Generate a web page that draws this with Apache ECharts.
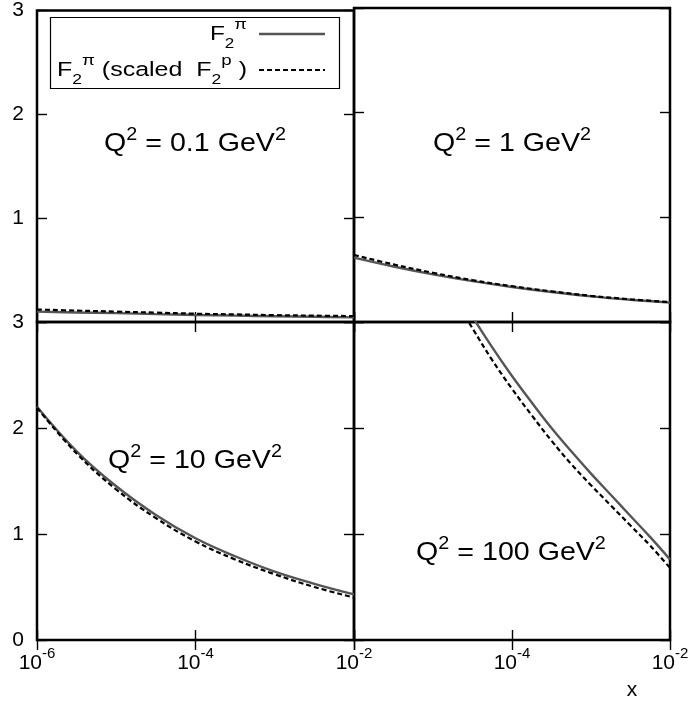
<!DOCTYPE html>
<html>
<head>
<meta charset="utf-8">
<script src="https://cdn.jsdelivr.net/npm/echarts@6/dist/echarts.min.js"></script>
<style>
html,body{margin:0;padding:0;background:#fff;}
#chart{width:694px;height:702px;}
</style>
</head>
<body>
<div id="chart"></div>
<script>
// ---- data (x given as log10(x)) ----
const xExp = [-6, -5.5, -5, -4.5, -4, -3.5, -3, -2.5, -2];
const q01Pi     = [0.100, 0.092, 0.085, 0.076, 0.068, 0.061, 0.055, 0.050, 0.045];
const q01Scaled = [0.120, 0.110, 0.100, 0.090, 0.080, 0.073, 0.066, 0.061, 0.057];
const q1Pi      = [0.615, 0.530, 0.455, 0.390, 0.335, 0.287, 0.245, 0.212, 0.185];
const q1Scaled  = [0.640, 0.550, 0.470, 0.400, 0.342, 0.293, 0.250, 0.217, 0.190];
const q10Pi     = [2.20, 1.78, 1.45, 1.18, 0.96, 0.79, 0.645, 0.53, 0.43];
const q10Scaled = [2.19, 1.76, 1.42, 1.15, 0.93, 0.76, 0.62, 0.50, 0.40];
const xExp100    = [-4.75, -4.5, -4.25, -4, -3.75, -3.5, -3.25, -3, -2.75, -2.5, -2.25, -2];
const q100Pi     = [3.36, 3.05, 2.76, 2.49, 2.24, 2.00, 1.78, 1.57, 1.37, 1.17, 0.97, 0.76];
const q100Scaled = [3.25, 2.94, 2.64, 2.37, 2.12, 1.88, 1.66, 1.46, 1.27, 1.08, 0.89, 0.68];
const xTickExp = [-6, -4, -2];
const yTicks = [0, 1, 2, 3];
const panelLabels = ['0.1', '1', '10', '100'];

const FONT = 'Liberation Sans, Arial, Helvetica, sans-serif';
const chart = echarts.init(document.getElementById('chart'), null, {renderer: 'canvas'});

const grids = [
  {left: 37, top: 8, width: 317, height: 314},
  {left: 354, top: 8, width: 316, height: 314},
  {left: 37, top: 322, width: 317, height: 318},
  {left: 354, top: 322, width: 316, height: 318}
].map(g => Object.assign(g, {show: true, borderColor: '#000', borderWidth: 2.5, backgroundColor: 'transparent', containLabel: false}));

const tickStyle = {show: true, inside: true, length: 10, lineStyle: {color: '#000', width: 1.4}};
const xRich = {
  b: {fontSize: 21, fontFamily: FONT, color: '#000', lineHeight: 34, verticalAlign: 'middle'},
  s: {fontSize: 15, fontFamily: FONT, color: '#000', lineHeight: 15, verticalAlign: 'top'}
};

const xAxes = [], yAxes = [];
for (let i = 0; i < 4; i++) {
  const bottomRow = i >= 2;
  const rightCol = i % 2 === 1;
  xAxes.push({
    type: 'value', gridIndex: i, min: xTickExp[0], max: xTickExp[xTickExp.length - 1], interval: 2,
    position: 'bottom',
    axisLine: {show: false}, splitLine: {show: false}, axisTick: tickStyle,
    axisLabel: {
      show: bottomRow, margin: 6,
      formatter: v => (rightCol && v === -6) ? '' : '{b|10}{s|' + v + '}',
      rich: xRich
    }
  });
  xAxes.push({
    type: 'value', gridIndex: i, min: -6, max: -2, interval: 2, position: 'top',
    axisLine: {show: false}, splitLine: {show: false}, axisTick: tickStyle,
    axisLabel: {show: false}
  });
  yAxes.push({
    type: 'value', gridIndex: i, min: yTicks[0], max: yTicks[yTicks.length - 1], interval: 1,
    position: 'left',
    axisLine: {show: false}, splitLine: {show: false}, axisTick: tickStyle,
    axisLabel: {
      show: !rightCol, margin: 13, fontSize: 21, fontFamily: FONT, color: '#000',
      formatter: v => (!bottomRow && v === 0) ? '' : String(v)
    }
  });
  yAxes.push({
    type: 'value', gridIndex: i, min: 0, max: 3, interval: 1, position: 'right',
    axisLine: {show: false}, splitLine: {show: false}, axisTick: tickStyle,
    axisLabel: {show: false}
  });
}

const panels = [
  [xExp, q01Pi, q01Scaled],
  [xExp, q1Pi, q1Scaled],
  [xExp, q10Pi, q10Scaled],
  [xExp100, q100Pi, q100Scaled]
];
const series = [];
panels.forEach((p, i) => {
  const [xs, a, b] = p;
  series.push({
    name: 'F2pi', type: 'line', xAxisIndex: 2 * i, yAxisIndex: 2 * i,
    data: xs.map((x, k) => [x, a[k]]), smooth: 0.4, showSymbol: false, clip: true,
    lineStyle: {color: '#555', width: 2.4}, z: 3
  });
  series.push({
    name: 'F2pi scaled', type: 'line', xAxisIndex: 2 * i, yAxisIndex: 2 * i,
    data: xs.map((x, k) => [x, b[k]]), smooth: 0.4, showSymbol: false, clip: true,
    lineStyle: {color: '#000', width: 2.2, type: [5, 3]}, z: 4
  });
});

const labRich = {
  b: {fontSize: 26, fontFamily: FONT, color: '#000', lineHeight: 35, verticalAlign: 'middle'},
  s: {fontSize: 18, fontFamily: FONT, color: '#000', lineHeight: 18, verticalAlign: 'top'}
};
const labelPos = [[195, 144], [512, 144], [195, 461], [511, 553]];
const graphics = panelLabels.map((q, i) => ({
  type: 'text', x: labelPos[i][0], y: labelPos[i][1], scaleX: 1.1, z: 10,
  style: {
    text: '{b|Q}{s|2}{b| = ' + q + ' GeV}{s|2}', rich: labRich,
    align: 'center', verticalAlign: 'middle'
  }
}));

const legRich = {
  b: {fontSize: 20, fontFamily: FONT, color: '#000', lineHeight: 34, verticalAlign: 'middle'},
  d: {fontSize: 14, fontFamily: FONT, color: '#000', lineHeight: 22, verticalAlign: 'bottom'},
  u: {fontSize: 15, fontFamily: FONT, color: '#000', lineHeight: 15, verticalAlign: 'top'}
};
graphics.push(
  {type: 'rect', shape: {x: 50.5, y: 17.5, width: 289, height: 71}, style: {fill: '#fff', stroke: '#000', lineWidth: 1.2}, z: 8},
  {type: 'text', x: 247, y: 34, scaleX: 1.22, z: 9, style: {text: '{b|F}{d|2}{u|π}', rich: legRich, align: 'right', verticalAlign: 'middle'}},
  {type: 'line', shape: {x1: 259, y1: 34, x2: 325, y2: 34}, style: {stroke: '#555', lineWidth: 2.4}, z: 9},
  {type: 'text', x: 247, y: 70, scaleX: 1.25, z: 9, style: {text: '{b|F}{d|2}{u|π}{b| (scaled  F}{d|2}{u|p}{b| )}', rich: legRich, align: 'right', verticalAlign: 'middle'}},
  {type: 'line', shape: {x1: 259, y1: 70, x2: 325, y2: 70}, style: {stroke: '#000', lineWidth: 2.2, lineDash: [5, 3]}, z: 9},
  {type: 'text', x: 632, y: 690, z: 9, style: {text: 'x', fontSize: 21, fontFamily: FONT, fill: '#000', align: 'center', verticalAlign: 'middle'}}
);

chart.setOption({
  animation: false,
  backgroundColor: '#fff',
  grid: grids,
  xAxis: xAxes,
  yAxis: yAxes,
  series: series,
  graphic: graphics
});
</script>
</body>
</html>
